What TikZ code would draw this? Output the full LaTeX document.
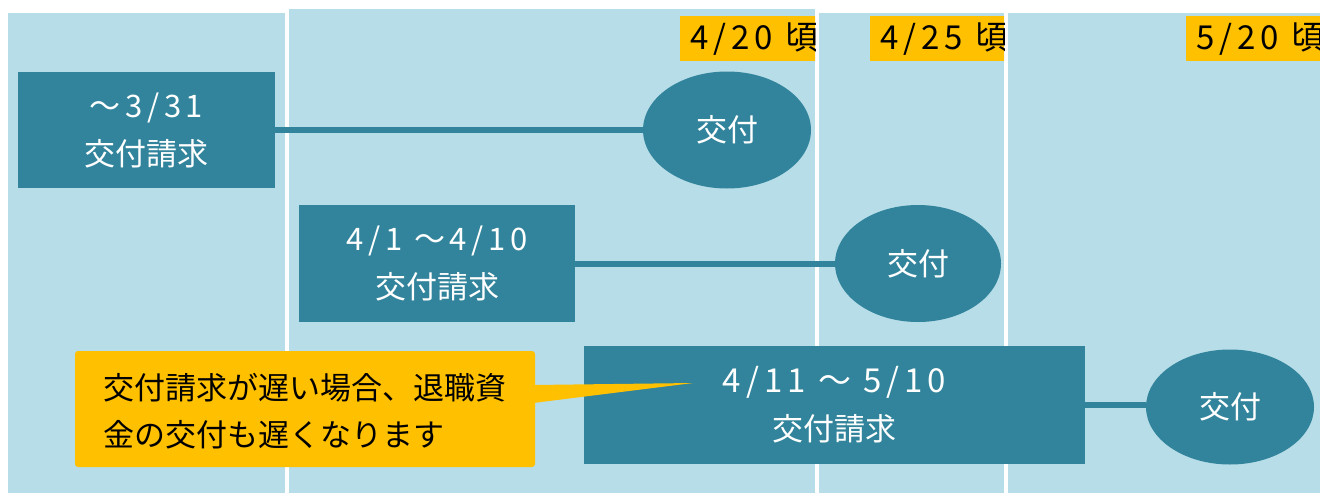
\documentclass[tikz,border=0pt]{standalone}
\usepackage{fontspec}
\setmainfont{Noto Sans CJK JP}
\newfontfamily\widefont{Noto Sans CJK JP}[LetterSpace=15]
\usetikzlibrary{shapes.geometric}
\definecolor{lightaqua}{HTML}{B7DDE8}
\definecolor{darkaqua}{HTML}{31849B}
\definecolor{amber}{HTML}{FFC000}
\tikzset{
  colbg/.style={fill=lightaqua},
  stepbox/.style={rectangle, fill=darkaqua, text=white, align=center, inner sep=0pt,
    font=\fontsize{31}{48}\selectfont},
  issue/.style={ellipse, fill=darkaqua, text=white, inner sep=0pt,
    font=\fontsize{31}{36}\selectfont},
  link/.style={draw=darkaqua, line width=6pt},
  datelabel/.style={rectangle, fill=amber, text=black, anchor=north west, inner xsep=10pt,
    inner ysep=0pt, minimum height=45pt, font=\widefont\fontsize{33}{36}\selectfont},
  note/.style={rectangle, rounded corners=3pt, fill=amber, text=black, align=left,
    inner sep=0pt, font=\fontsize{31}{47}\selectfont}
}
\begin{document}
\begin{tikzpicture}[x=1pt,y=-1pt]
\useasboundingbox (0,0) rectangle (1320,493);
% columns
\fill[colbg] (8,13) rectangle (285,493);
\fill[colbg] (289,9) rectangle (815,493);
\fill[colbg] (819,13) rectangle (1004,493);
\fill[colbg] (1008,13) rectangle (1320,493);
% date labels
\begin{scope}
\clip (680,16) rectangle (815,61);
\node[datelabel, minimum width=135pt] (d1) at (680,16) {4/20 頃};
\end{scope}
\begin{scope}
\clip (870,16) rectangle (1004,61);
\node[datelabel, minimum width=134pt] (d2) at (870,16) {4/25 頃};
\end{scope}
\begin{scope}
\clip (1186,16) rectangle (1320,61);
\node[datelabel, minimum width=134pt] (d3) at (1186,16) {5/20 頃};
\end{scope}
% request boxes
\node[stepbox, minimum width=257pt, minimum height=116pt] (b1) at (146.5,130)
  {{\widefont ～3/31}\\交付請求};
\node[stepbox, minimum width=276pt, minimum height=117pt] (b2) at (437,263.5)
  {{\widefont 4/1 ～4/10}\\交付請求};
\node[stepbox, minimum width=501pt, minimum height=118pt] (b3) at (834.5,404.5)
  {{\widefont\fontsize{33}{48}\selectfont 4/11 ～ 5/10}\\交付請求};
% issue ellipses
\node[issue, minimum width=168pt, minimum height=117pt] (e1) at (727,130) {交付};
\node[issue, minimum width=166pt, minimum height=117pt] (e2) at (918,263.5) {交付};
\node[issue, minimum width=168pt, minimum height=115pt] (e3) at (1230,407) {交付};
% connectors
\draw[link] (b1.east) -- (e1.west);
\draw[link] (b2.east) -- (e2.west);
\draw[link] (b3.east) -- (b3.east -| e3.west);
% callout
\node[note, minimum width=460pt, minimum height=116pt] (n) at (305,409)
  {\rule{0pt}{30pt}交付請求が遅い場合、退職資\\金の交付も遅くなります};
\coordinate (tip) at (693,383);
\fill[amber] ([xshift=-2pt,yshift=24pt]n.east) -- (tip) -- ([xshift=-2pt,yshift=6pt]n.east) -- cycle;
\end{tikzpicture}
\end{document}
